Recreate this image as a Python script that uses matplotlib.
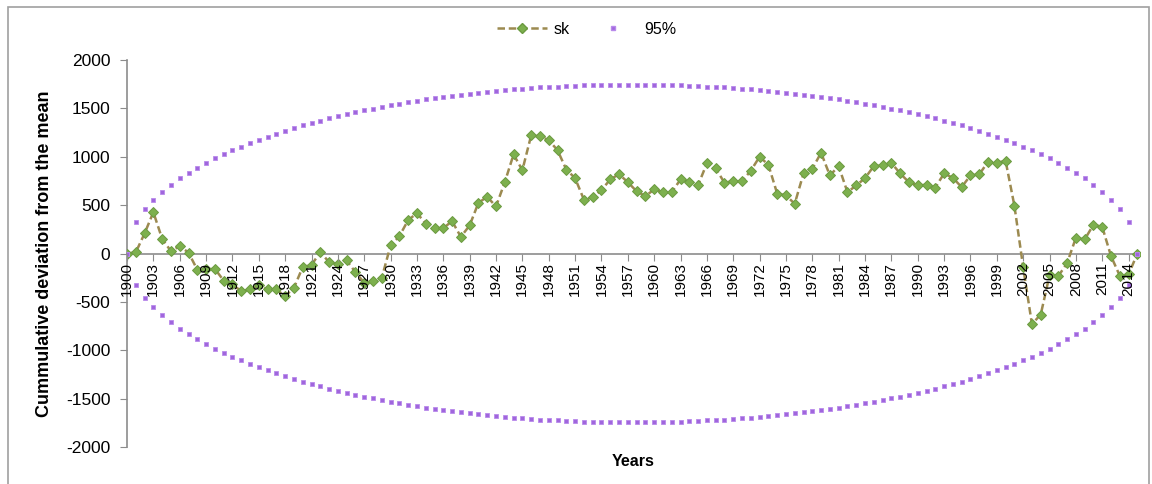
import matplotlib.pyplot as plt
from matplotlib.lines import Line2D
from matplotlib.patches import Rectangle

# years 1900..2015
years = list(range(1900, 2016))

# cumulative deviation from the mean
sk = [0, 12, 207, 427, 152, 24, 76, 10, -168, -165,
      -158, -280, -320, -390, -372, -330, -372, -372, -441, -355,
      -140, -118, 13, -88, -110, -72, -193, -303, -286, -252,
      83, 179, 345, 417, 310, 262, 262, 334, 172, 290,
      524, 586, 486, 737, 1024, 861, 1220, 1210, 1172, 1068,
      868, 779, 558, 580, 655, 765, 820, 737, 644, 593,
      662, 634, 634, 765, 737, 707, 931, 882, 731, 748,
      748, 855, 1000, 917, 620, 600, 514, 827, 876, 1041,
      807, 903, 634, 703, 779, 903, 910, 937, 827, 737,
      703, 710, 682, 827, 782, 686, 807, 817, 948, 937,
      958, 496, -140, -730, -631, -227, -234, -100, 162, 145,
      297, 276, -27, -230, -217, 0]

# 95% bounds
upper95 = [0, 324, 456, 556, 640, 712, 776, 834, 888, 937,
           983, 1027, 1067, 1105, 1141, 1175, 1208, 1239, 1268, 1296,
           1323, 1348, 1373, 1396, 1418, 1440, 1460, 1479, 1498, 1516,
           1533, 1549, 1564, 1579, 1593, 1606, 1619, 1630, 1642, 1652,
           1662, 1672, 1681, 1689, 1696, 1703, 1710, 1716, 1721, 1726,
           1730, 1734, 1737, 1740, 1742, 1743, 1745, 1745,
           1745, 1745, 1743, 1742, 1740, 1737, 1734, 1730, 1726, 1721,
           1716, 1710, 1703, 1696, 1689, 1681, 1672, 1662, 1652, 1642,
           1630, 1619, 1606, 1593, 1579, 1564, 1549, 1533, 1516, 1498,
           1479, 1460, 1440, 1418, 1396, 1373, 1348, 1323, 1296, 1268,
           1239, 1208, 1175, 1141, 1105, 1067, 1027, 983, 937, 888,
           834, 776, 712, 640, 556, 456, 324, 0]
lower95 = [0, -324, -456, -556, -640, -712, -776, -834, -888, -937,
           -983, -1027, -1067, -1105, -1141, -1175, -1208, -1239, -1268, -1296,
           -1323, -1348, -1373, -1396, -1418, -1440, -1460, -1479, -1498, -1516,
           -1533, -1549, -1564, -1579, -1593, -1606, -1619, -1630, -1642, -1652,
           -1662, -1672, -1681, -1689, -1696, -1703, -1710, -1716, -1721, -1726,
           -1730, -1734, -1737, -1740, -1742, -1743, -1745, -1745,
           -1745, -1745, -1743, -1742, -1740, -1737, -1734, -1730, -1726, -1721,
           -1716, -1710, -1703, -1696, -1689, -1681, -1672, -1662, -1652, -1642,
           -1630, -1619, -1606, -1593, -1579, -1564, -1549, -1533, -1516, -1498,
           -1479, -1460, -1440, -1418, -1396, -1373, -1348, -1323, -1296, -1268,
           -1239, -1208, -1175, -1141, -1105, -1067, -1027, -983, -937, -888,
           -834, -776, -712, -640, -556, -456, -324, 0]

tick_years = years[::3]

plt.rcParams['font.family'] = ['Liberation Sans', 'DejaVu Sans']
plt.rcParams['axes.unicode_minus'] = False

fig = plt.figure(figsize=(11.52, 4.84), dpi=100)
ax = fig.add_axes([127 / 1152, 1 - 447 / 484, (1140 - 127) / 1152, (447 - 60) / 484])

line_col = '#9C8A50'
green = '#7DB04E'
purple = '#A066DD'

ax.plot(years, sk, ls='--', lw=1.8, color=line_col, dashes=(3, 1.5),
        marker='D', ms=4.6, mfc=green, mec='#6B9A40', mew=0.7, zorder=3)
ax.plot(years, upper95, ls='none', marker='s', ms=3.2, color=purple,
        mec='#B98AEB', mew=0.6, zorder=4)
ax.plot(years, lower95, ls='none', marker='s', ms=3.2, color=purple,
        mec='#B98AEB', mew=0.6, zorder=4)

ax.set_xlim(1900, 2015.3)
ax.set_ylim(-2000, 2000)
ax.set_yticks(range(-2000, 2001, 500))
ax.set_xticks(tick_years)
ax.set_xticklabels([str(y) for y in tick_years])
ax.xaxis.set_zorder(5)

for s in ['top', 'right']:
    ax.spines[s].set_visible(False)
ax.spines['bottom'].set_position(('data', 0))
ax.spines['left'].set_color('#8C8C8C')
ax.spines['bottom'].set_color('#8C8C8C')
ax.spines['left'].set_linewidth(1.2)
ax.spines['bottom'].set_linewidth(1.2)

ax.tick_params(axis='y', direction='out', length=5, color='#8C8C8C',
               labelsize=12.5, pad=7)
ax.tick_params(axis='x', direction='out', length=5, color='#8C8C8C',
               labelsize=11, labelrotation=90, pad=1)

fig.text(45 / 1152, 1 - 254 / 484, 'Cummulative deviation from the mean',
         rotation=90, ha='center', va='center', fontsize=13, fontweight='bold')
fig.text(633 / 1152, 1 - 461 / 484, 'Years', ha='center', va='center',
         fontsize=11.5, fontweight='bold')

handles = [
    Line2D([], [], ls='--', lw=1.8, color=line_col, dashes=(3, 1.5),
           marker='D', ms=4.6, mfc=green, mec='#6B9A40'),
    Line2D([], [], ls='none', marker='s', ms=3.2, color=purple, mec='#B98AEB'),
]
fig.legend(handles, ['sk', '95%'], loc='center', bbox_to_anchor=(587 / 1152, 1 - 29 / 484),
           ncol=2, frameon=False, handlelength=3.1, columnspacing=1.2,
           handletextpad=0.4, fontsize=11.5)

# outer chart frame
fig.add_artist(Rectangle((8 / 1152, -0.05), (1149 - 8) / 1152, 1.05 - 7 / 484,
                         transform=fig.transFigure, fill=False,
                         ec='#A0A0A0', lw=1.2))

plt.savefig('out.png', dpi=100)
